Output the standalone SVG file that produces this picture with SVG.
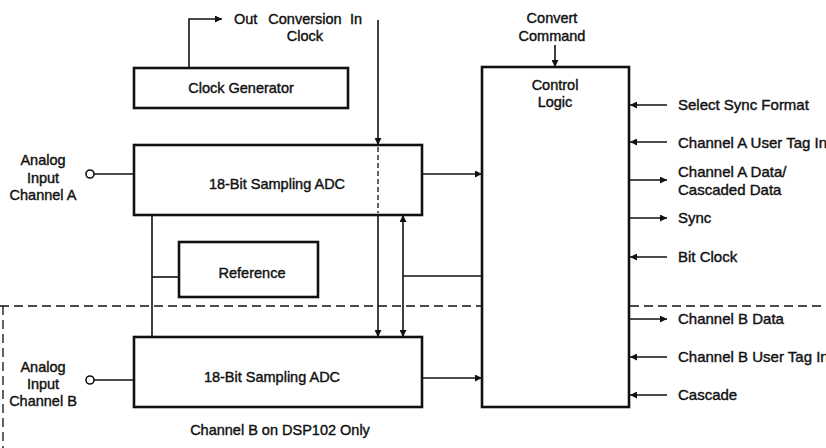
<svg xmlns="http://www.w3.org/2000/svg" width="826" height="448" viewBox="0 0 826 448">
<defs>
<marker id="ah" viewBox="0 0 10 10" refX="10" refY="5" markerWidth="9" markerHeight="7" markerUnits="userSpaceOnUse" orient="auto-start-reverse">
<path d="M0,0 L10,5 L0,10 z" fill="#111"/>
</marker>
<style>
.box{fill:#fff;stroke:#111;stroke-width:2.6}
.ln{fill:none;stroke:#111;stroke-width:1.6}
.dash{fill:none;stroke:#111;stroke-width:1.3;stroke-dasharray:9,5}
text{font-family:"Liberation Sans",Arial,sans-serif;font-size:14.5px;fill:#111;stroke:#111;stroke-width:0.4}
.c{text-anchor:middle}
.r{font-size:15px}
</style>
</defs>
<rect width="826" height="448" fill="#fff"/>

<g id="connectors">
<path class="ln" d="M189,68 V19 H222" marker-end="url(#ah)"/>
<path class="ln" d="M378,20 V145" marker-end="url(#ah)"/>
<path class="ln" d="M378,215 V337" marker-end="url(#ah)"/>
<path class="ln" d="M403,215 V337" marker-start="url(#ah)" marker-end="url(#ah)"/>
<path class="ln" d="M403,276 H482"/>
<path class="ln" d="M152,215 V337"/>
<path class="ln" d="M152,277 H179"/>
<path class="ln" d="M94,174 H134"/>
<path class="ln" d="M94,380 H134"/>
<path class="ln" d="M422,174 H482" marker-end="url(#ah)"/>
<path class="ln" d="M422,378 H482" marker-end="url(#ah)"/>
<path class="ln" d="M555,45 V67" marker-end="url(#ah)"/>
<path class="ln" d="M667,105 H630" marker-end="url(#ah)"/>
<path class="ln" d="M667,142 H630" marker-end="url(#ah)"/>
<path class="ln" d="M629,180 H667" marker-end="url(#ah)"/>
<path class="ln" d="M629,218 H667" marker-end="url(#ah)"/>
<path class="ln" d="M667,257 H630" marker-end="url(#ah)"/>
<path class="ln" d="M629,319 H667" marker-end="url(#ah)"/>
<path class="ln" d="M667,357 H630" marker-end="url(#ah)"/>
<path class="ln" d="M667,395 H630" marker-end="url(#ah)"/>
<path class="dash" d="M0,306 H826"/>
<path class="dash" d="M3,306 V448"/>
</g>

<g id="clock-generator">
<rect class="box" x="134" y="68" width="214" height="40"/>
<text class="c" x="241" y="93">Clock Generator</text>
</g>

<g id="adc-a">
<rect class="box" x="134" y="145" width="288" height="70"/>
<path class="dash" d="M378,147 V213" style="stroke-dasharray:5,3"/>
<text class="c" x="277" y="189">18-Bit Sampling ADC</text>
</g>

<g id="reference">
<rect class="box" x="179" y="242" width="139" height="55"/>
<text class="c" x="252" y="278">Reference</text>
</g>

<g id="adc-b">
<rect class="box" x="134" y="337" width="288" height="70"/>
<text class="c" x="272" y="382">18-Bit Sampling ADC</text>
</g>

<g id="control-logic">
<rect class="box" x="482" y="67" width="147" height="340"/>
<text class="c" x="555" y="90">Control</text>
<text class="c" x="555" y="107">Logic</text>
</g>

<g id="input-a">
<circle cx="90" cy="174" r="4" fill="#fff" stroke="#111" stroke-width="1.6"/>
<text class="c" x="43" y="165">Analog</text>
<text class="c" x="43" y="183">Input</text>
<text class="c" x="43" y="200">Channel A</text>
</g>

<g id="input-b">
<circle cx="90" cy="380" r="4" fill="#fff" stroke="#111" stroke-width="1.6"/>
<text class="c" x="43" y="372">Analog</text>
<text class="c" x="43" y="389">Input</text>
<text class="c" x="43" y="406">Channel B</text>
</g>

<g id="labels">
<text x="234" y="24">Out</text>
<text class="c" x="305" y="24">Conversion</text>
<text x="350" y="24">In</text>
<text class="c" x="305" y="41">Clock</text>
<text class="c" x="552" y="23">Convert</text>
<text class="c" x="552" y="41">Command</text>
<text class="r" x="678" y="110">Select Sync Format</text>
<text class="r" x="678" y="148">Channel A User Tag In</text>
<text class="r" x="678" y="177">Channel A Data/</text>
<text class="r" x="678" y="195">Cascaded Data</text>
<text class="r" x="678" y="223">Sync</text>
<text class="r" x="678" y="262">Bit Clock</text>
<text class="r" x="678" y="324">Channel B Data</text>
<text class="r" x="678" y="362">Channel B User Tag In</text>
<text class="r" x="678" y="400">Cascade</text>
<text class="c" x="280" y="435">Channel B on DSP102 Only</text>
</g>
</svg>
